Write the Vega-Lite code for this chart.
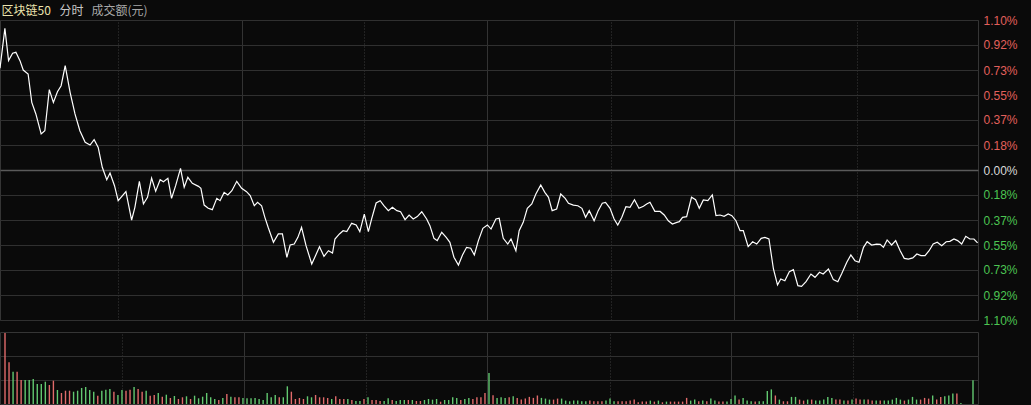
{
  "$schema": "https://vega.github.io/schema/vega-lite/v6.json",
  "background": "#0a0a0a",
  "padding": {"top": 3, "left": -3, "right": 17, "bottom": 0},
  "autosize": {"type": "pad"},
  "bounds": "flush",
  "spacing": 12,
  "config": {
    "view": {"stroke": "#353535", "strokeWidth": 1},
    "axis": {"labelFont": "Liberation Sans", "titleFont": "Noto Sans CJK SC"}
  },
  "datasets": {
    "price": [
      {"t":0,"p":0.746},{"t":1.2,"p":1.039},{"t":2.1,"p":0.802},{"t":3.1,"p":0.856},{"t":3.9,"p":0.863},{"t":4.9,"p":0.802},{"t":5.7,"p":0.733},{"t":6.9,"p":0.704},{"t":7.8,"p":0.496},{"t":8.8,"p":0.411},
      {"t":10.1,"p":0.264},{"t":11,"p":0.288},{"t":12.1,"p":0.589},{"t":13.1,"p":0.496},{"t":14.1,"p":0.574},{"t":15,"p":0.618},{"t":16,"p":0.765},{"t":17.2,"p":0.57},{"t":18.4,"p":0.411},{"t":19.6,"p":0.288},
      {"t":20.9,"p":0.203},{"t":22.1,"p":0.183},{"t":23.1,"p":0.222},{"t":24.1,"p":0.166},{"t":25.1,"p":0.02},{"t":26.2,"p":-0.071},{"t":27,"p":-0.022},{"t":28.1,"p":-0.115},{"t":29,"p":-0.225},{"t":30.9,"p":-0.159},
      {"t":32.3,"p":-0.367},{"t":33.1,"p":-0.274},{"t":34.2,"p":-0.083},{"t":35.2,"p":-0.249},{"t":36.2,"p":-0.2},{"t":37.2,"p":-0.059},{"t":38.2,"p":-0.156},{"t":39.3,"p":-0.071},{"t":40.1,"p":-0.086},{"t":41.2,"p":-0.061},
      {"t":42.1,"p":-0.208},{"t":43.1,"p":-0.115},{"t":44.3,"p":0.012},{"t":45.2,"p":-0.127},{"t":46.1,"p":-0.054},{"t":47.2,"p":-0.098},{"t":48.7,"p":-0.12},{"t":49.3,"p":-0.134},{"t":50.1,"p":-0.257},{"t":51.1,"p":-0.281},
      {"t":52.1,"p":-0.291},{"t":53.2,"p":-0.208},{"t":54,"p":-0.225},{"t":55,"p":-0.164},{"t":55.9,"p":-0.183},{"t":56.9,"p":-0.152},{"t":58.1,"p":-0.083},{"t":59.3,"p":-0.134},{"t":60.5,"p":-0.159},{"t":61.4,"p":-0.188},
      {"t":62.4,"p":-0.262},{"t":63.2,"p":-0.237},{"t":64.2,"p":-0.262},{"t":65,"p":-0.347},{"t":65.8,"p":-0.42},{"t":67.1,"p":-0.53},{"t":68.3,"p":-0.469},{"t":69.3,"p":-0.469},{"t":70.4,"p":-0.64},{"t":71.2,"p":-0.55},
      {"t":72.2,"p":-0.543},{"t":73.1,"p":-0.494},{"t":74,"p":-0.42},{"t":75.1,"p":-0.555},{"t":76.5,"p":-0.689},{"t":77.5,"p":-0.623},{"t":78.4,"p":-0.562},{"t":79.5,"p":-0.633},{"t":80.6,"p":-0.592},{"t":81.6,"p":-0.609},
      {"t":82.2,"p":-0.506},{"t":83.3,"p":-0.469},{"t":84.2,"p":-0.445},{"t":85.1,"p":-0.452},{"t":86.3,"p":-0.391},{"t":87.4,"p":-0.403},{"t":88.3,"p":-0.452},{"t":89.4,"p":-0.323},{"t":90.4,"p":-0.452},{"t":91.2,"p":-0.359},
      {"t":92.3,"p":-0.242},{"t":93.3,"p":-0.225},{"t":94.2,"p":-0.262},{"t":95.3,"p":-0.298},{"t":96.3,"p":-0.274},{"t":97.4,"p":-0.298},{"t":98.3,"p":-0.306},{"t":99.4,"p":-0.364},{"t":100.4,"p":-0.33},{"t":101.4,"p":-0.359},
      {"t":102.4,"p":-0.342},{"t":103.5,"p":-0.306},{"t":104.7,"p":-0.359},{"t":105.5,"p":-0.408},{"t":106.5,"p":-0.501},{"t":107.3,"p":-0.518},{"t":108.4,"p":-0.457},{"t":109.5,"p":-0.494},{"t":110.4,"p":-0.53},{"t":111.4,"p":-0.64},
      {"t":112.5,"p":-0.697},{"t":113.5,"p":-0.623},{"t":114.5,"p":-0.567},{"t":115.5,"p":-0.574},{"t":116.4,"p":-0.623},{"t":117.4,"p":-0.518},{"t":118.5,"p":-0.428},{"t":119.6,"p":-0.403},{"t":120.5,"p":-0.433},{"t":121.7,"p":-0.359},
      {"t":122.5,"p":-0.354},{"t":123.5,"p":-0.501},{"t":124.6,"p":-0.543},{"t":125.4,"p":-0.506},{"t":126.6,"p":-0.592},{"t":127.4,"p":-0.445},{"t":128.4,"p":-0.384},{"t":129.4,"p":-0.281},{"t":130.5,"p":-0.249},{"t":131.5,"p":-0.176},
      {"t":132.7,"p":-0.11},{"t":133.7,"p":-0.164},{"t":134.6,"p":-0.2},{"t":135.5,"p":-0.298},{"t":136.6,"p":-0.286},{"t":137.6,"p":-0.176},{"t":138.7,"p":-0.208},{"t":139.5,"p":-0.244},{"t":140.7,"p":-0.257},{"t":141.8,"p":-0.262},
      {"t":142.8,"p":-0.281},{"t":143.7,"p":-0.347},{"t":144.6,"p":-0.298},{"t":145.8,"p":-0.372},{"t":146.8,"p":-0.298},{"t":147.8,"p":-0.244},{"t":148.6,"p":-0.237},{"t":149.7,"p":-0.281},{"t":150.7,"p":-0.359},{"t":151.6,"p":-0.403},
      {"t":152.6,"p":-0.347},{"t":153.6,"p":-0.269},{"t":154.6,"p":-0.274},{"t":155.7,"p":-0.218},{"t":156.8,"p":-0.281},{"t":157.9,"p":-0.266},{"t":158.7,"p":-0.249},{"t":159.5,"p":-0.237},{"t":160.7,"p":-0.303},{"t":162,"p":-0.304},
      {"t":163,"p":-0.33},{"t":164,"p":-0.372},{"t":165,"p":-0.396},{"t":166.1,"p":-0.384},{"t":166.7,"p":-0.379},{"t":167.5,"p":-0.347},{"t":168.5,"p":-0.342},{"t":169.7,"p":-0.2},{"t":170.7,"p":-0.218},{"t":171.6,"p":-0.281},
      {"t":172.6,"p":-0.22},{"t":173.7,"p":-0.225},{"t":174.8,"p":-0.183},{"t":175.7,"p":-0.335},{"t":176.7,"p":-0.33},{"t":177.7,"p":-0.34},{"t":178.7,"p":-0.323},{"t":179.6,"p":-0.335},{"t":180.6,"p":-0.372},{"t":181.6,"p":-0.445},
      {"t":182.4,"p":-0.445},{"t":183.6,"p":-0.562},{"t":184.7,"p":-0.526},{"t":185.7,"p":-0.543},{"t":186.8,"p":-0.501},{"t":187.7,"p":-0.494},{"t":188.7,"p":-0.506},{"t":189.8,"p":-0.726},{"t":190.8,"p":-0.843},{"t":191.6,"p":-0.799},
      {"t":192.6,"p":-0.812},{"t":193.7,"p":-0.746},{"t":194.7,"p":-0.731},{"t":195.8,"p":-0.848},{"t":196.7,"p":-0.853},{"t":197.8,"p":-0.819},{"t":199,"p":-0.763},{"t":200,"p":-0.787},{"t":201.1,"p":-0.75},{"t":202,"p":-0.763},
      {"t":203.3,"p":-0.726},{"t":204.5,"p":-0.804},{"t":205.6,"p":-0.819},{"t":206.6,"p":-0.758},{"t":207.8,"p":-0.677},{"t":208.8,"p":-0.623},{"t":209.8,"p":-0.665},{"t":210.8,"p":-0.677},{"t":211.9,"p":-0.567},{"t":212.8,"p":-0.526},
      {"t":213.9,"p":-0.55},{"t":215.1,"p":-0.543},{"t":216,"p":-0.545},{"t":216.8,"p":-0.567},{"t":217.7,"p":-0.513},{"t":218.8,"p":-0.55},{"t":219.8,"p":-0.518},{"t":220.9,"p":-0.592},{"t":221.9,"p":-0.648},{"t":222.9,"p":-0.653},
      {"t":224,"p":-0.645},{"t":225,"p":-0.616},{"t":226,"p":-0.628},{"t":227,"p":-0.628},{"t":228,"p":-0.592},{"t":229,"p":-0.543},{"t":230,"p":-0.53},{"t":231.1,"p":-0.555},{"t":232.2,"p":-0.526},{"t":233.1,"p":-0.523},
      {"t":234.1,"p":-0.506},{"t":235,"p":-0.518},{"t":236,"p":-0.543},{"t":237,"p":-0.486},{"t":238,"p":-0.506},{"t":239,"p":-0.506},{"t":239.9,"p":-0.535}
    ],
    "vol": [
      {"t":0,"v":71,"c":"up"},{"t":1,"v":41.7,"c":"up"},{"t":2,"v":32.3,"c":"dn"},{"t":3,"v":32.3,"c":"up"},{"t":4,"v":24,"c":"up"},{"t":5,"v":24,"c":"dn"},{"t":6,"v":24,"c":"dn"},{"t":7,"v":25,"c":"dn"},{"t":8,"v":20,"c":"dn"},{"t":9,"v":20,"c":"dn"},
      {"t":10,"v":22.3,"c":"dn"},{"t":11,"v":19,"c":"up"},{"t":12,"v":23.3,"c":"up"},{"t":13,"v":14,"c":"dn"},{"t":14,"v":11,"c":"up"},{"t":15,"v":13.3,"c":"up"},{"t":16,"v":13.3,"c":"up"},{"t":17,"v":12.3,"c":"dn"},{"t":18,"v":13.3,"c":"dn"},{"t":19,"v":16,"c":"dn"},
      {"t":20,"v":17,"c":"dn"},{"t":21,"v":14,"c":"dn"},{"t":22,"v":12.3,"c":"dn"},{"t":23,"v":8.3,"c":"up"},{"t":24,"v":13.3,"c":"dn"},{"t":25,"v":14.3,"c":"dn"},{"t":26,"v":15,"c":"dn"},{"t":27,"v":12.3,"c":"up"},{"t":28,"v":9,"c":"dn"},{"t":29,"v":14,"c":"dn"},
      {"t":30,"v":13.3,"c":"up"},{"t":31,"v":14.3,"c":"up"},{"t":32,"v":17,"c":"dn"},{"t":33,"v":15,"c":"up"},{"t":34,"v":12.3,"c":"up"},{"t":35,"v":13.3,"c":"dn"},{"t":36,"v":8.3,"c":"up"},{"t":37,"v":9,"c":"up"},{"t":38,"v":11,"c":"dn"},{"t":39,"v":7.3,"c":"up"},
      {"t":40,"v":9.3,"c":"dn"},{"t":41,"v":6,"c":"up"},{"t":42,"v":8,"c":"dn"},{"t":43,"v":5,"c":"up"},{"t":44,"v":6.7,"c":"up"},{"t":45,"v":7.7,"c":"dn"},{"t":46,"v":5,"c":"up"},{"t":47,"v":8.3,"c":"dn"},{"t":48,"v":5.7,"c":"dn"},{"t":49,"v":7.3,"c":"dn"},
      {"t":50,"v":11,"c":"dn"},{"t":51,"v":6.7,"c":"dn"},{"t":52,"v":5,"c":"dn"},{"t":53,"v":4,"c":"up"},{"t":54,"v":6,"c":"dn"},{"t":55,"v":10,"c":"up"},{"t":56,"v":7.3,"c":"dn"},{"t":57,"v":6.7,"c":"up"},{"t":58,"v":6.7,"c":"up"},{"t":59,"v":6,"c":"dn"},
      {"t":60,"v":5.7,"c":"dn"},{"t":61,"v":5.7,"c":"dn"},{"t":62,"v":6,"c":"dn"},{"t":63,"v":5,"c":"dn"},{"t":64,"v":4,"c":"dn"},{"t":65,"v":11,"c":"dn"},{"t":66,"v":6.7,"c":"dn"},{"t":67,"v":9,"c":"dn"},{"t":68,"v":6.7,"c":"up"},{"t":69,"v":6.7,"c":"dn"},
      {"t":70,"v":17.7,"c":"dn"},{"t":71,"v":12.3,"c":"up"},{"t":72,"v":5,"c":"up"},{"t":73,"v":6,"c":"up"},{"t":74,"v":5,"c":"up"},{"t":75,"v":7.7,"c":"dn"},{"t":76,"v":6.7,"c":"dn"},{"t":77,"v":9,"c":"up"},{"t":78,"v":6.7,"c":"up"},{"t":79,"v":6.7,"c":"up"},
      {"t":80,"v":6,"c":"up"},{"t":81,"v":5,"c":"dn"},{"t":82,"v":7.7,"c":"up"},{"t":83,"v":5,"c":"up"},{"t":84,"v":5,"c":"up"},{"t":85,"v":5,"c":"dn"},{"t":86,"v":4,"c":"up"},{"t":87,"v":3,"c":"dn"},{"t":88,"v":3,"c":"dn"},{"t":89,"v":5,"c":"up"},
      {"t":90,"v":6.7,"c":"dn"},{"t":91,"v":4,"c":"up"},{"t":92,"v":4,"c":"up"},{"t":93,"v":3,"c":"up"},{"t":94,"v":3,"c":"dn"},{"t":95,"v":5.7,"c":"dn"},{"t":96,"v":4,"c":"up"},{"t":97,"v":3,"c":"dn"},{"t":98,"v":4,"c":"dn"},{"t":99,"v":4,"c":"dn"},
      {"t":100,"v":4,"c":"up"},{"t":101,"v":4,"c":"dn"},{"t":102,"v":3,"c":"up"},{"t":103,"v":3,"c":"up"},{"t":104,"v":4,"c":"dn"},{"t":105,"v":5,"c":"dn"},{"t":106,"v":4.3,"c":"dn"},{"t":107,"v":5,"c":"dn"},{"t":108,"v":2.3,"c":"up"},{"t":109,"v":4,"c":"dn"},
      {"t":110,"v":4,"c":"dn"},{"t":111,"v":6.7,"c":"dn"},{"t":112,"v":6,"c":"dn"},{"t":113,"v":4,"c":"up"},{"t":114,"v":5,"c":"dn"},{"t":115,"v":6,"c":"dn"},{"t":116,"v":5,"c":"up"},{"t":117,"v":6.7,"c":"up"},{"t":118,"v":6.7,"c":"up"},{"t":119,"v":11,"c":"up"},
      {"t":120,"v":31,"c":"dn"},{"t":121,"v":8.7,"c":"up"},{"t":122,"v":6,"c":"dn"},{"t":123,"v":6.7,"c":"dn"},{"t":124,"v":6,"c":"dn"},{"t":125,"v":6.7,"c":"up"},{"t":126,"v":7.7,"c":"dn"},{"t":127,"v":6.1,"c":"up"},{"t":128,"v":4.4,"c":"up"},{"t":129,"v":5.4,"c":"up"},
      {"t":130,"v":7.1,"c":"up"},{"t":131,"v":6.1,"c":"up"},{"t":132,"v":8.5,"c":"up"},{"t":133,"v":6.1,"c":"dn"},{"t":134,"v":5.4,"c":"dn"},{"t":135,"v":4.4,"c":"dn"},{"t":136,"v":4.4,"c":"up"},{"t":137,"v":5.4,"c":"up"},{"t":138,"v":5.4,"c":"dn"},{"t":139,"v":3.4,"c":"dn"},
      {"t":140,"v":2.7,"c":"dn"},{"t":141,"v":3.4,"c":"dn"},{"t":142,"v":3.4,"c":"dn"},{"t":143,"v":2.7,"c":"dn"},{"t":144,"v":2.7,"c":"dn"},{"t":145,"v":3.4,"c":"up"},{"t":146,"v":2.7,"c":"up"},{"t":147,"v":2.7,"c":"up"},{"t":148,"v":2.7,"c":"up"},{"t":149,"v":3.4,"c":"dn"},
      {"t":150,"v":5.4,"c":"dn"},{"t":151,"v":2.7,"c":"dn"},{"t":152,"v":2.7,"c":"up"},{"t":153,"v":2.7,"c":"up"},{"t":154,"v":2.7,"c":"up"},{"t":155,"v":3.4,"c":"up"},{"t":156,"v":4.4,"c":"up"},{"t":157,"v":1.7,"c":"up"},{"t":158,"v":2.4,"c":"up"},{"t":159,"v":2.4,"c":"up"},
      {"t":160,"v":3.4,"c":"dn"},{"t":161,"v":2.4,"c":"up"},{"t":162,"v":3.4,"c":"dn"},{"t":163,"v":1.7,"c":"up"},{"t":164,"v":2.4,"c":"dn"},{"t":165,"v":2.4,"c":"up"},{"t":166,"v":2.4,"c":"up"},{"t":167,"v":2.4,"c":"up"},{"t":168,"v":2.4,"c":"up"},{"t":169,"v":6.1,"c":"up"},
      {"t":170,"v":3.4,"c":"dn"},{"t":171,"v":4.4,"c":"dn"},{"t":172,"v":2.7,"c":"up"},{"t":173,"v":3.4,"c":"dn"},{"t":174,"v":2.7,"c":"up"},{"t":175,"v":5.4,"c":"dn"},{"t":176,"v":3.4,"c":"dn"},{"t":177,"v":2.4,"c":"up"},{"t":178,"v":2.4,"c":"up"},{"t":179,"v":2.4,"c":"dn"},
      {"t":180,"v":5.1,"c":"dn"},{"t":181,"v":8.5,"c":"dn"},{"t":182,"v":4.4,"c":"up"},{"t":183,"v":6.1,"c":"dn"},{"t":184,"v":3.4,"c":"dn"},{"t":185,"v":2.7,"c":"dn"},{"t":186,"v":2.4,"c":"up"},{"t":187,"v":2.7,"c":"dn"},{"t":188,"v":2.7,"c":"dn"},{"t":189,"v":12.9,"c":"dn"},
      {"t":190,"v":14.6,"c":"dn"},{"t":191,"v":8.5,"c":"up"},{"t":192,"v":4.4,"c":"dn"},{"t":193,"v":2.7,"c":"up"},{"t":194,"v":2.7,"c":"up"},{"t":195,"v":7.1,"c":"dn"},{"t":196,"v":7.1,"c":"dn"},{"t":197,"v":4.4,"c":"up"},{"t":198,"v":3.4,"c":"up"},{"t":199,"v":4.4,"c":"dn"},
      {"t":200,"v":4.4,"c":"up"},{"t":201,"v":3.4,"c":"dn"},{"t":202,"v":3.4,"c":"dn"},{"t":203,"v":4.4,"c":"dn"},{"t":204,"v":7.1,"c":"dn"},{"t":205,"v":6.1,"c":"dn"},{"t":206,"v":4.4,"c":"up"},{"t":207,"v":4.4,"c":"up"},{"t":208,"v":3.4,"c":"dn"},{"t":209,"v":3.4,"c":"up"},
      {"t":210,"v":4.4,"c":"dn"},{"t":211,"v":5.4,"c":"up"},{"t":212,"v":4.4,"c":"up"},{"t":213,"v":4.4,"c":"dn"},{"t":214,"v":4.4,"c":"up"},{"t":215,"v":3.4,"c":"up"},{"t":216,"v":3.4,"c":"dn"},{"t":217,"v":3.4,"c":"up"},{"t":218,"v":3.4,"c":"dn"},{"t":219,"v":3.4,"c":"dn"},
      {"t":220,"v":4.4,"c":"dn"},{"t":221,"v":6.1,"c":"dn"},{"t":222,"v":4.4,"c":"dn"},{"t":223,"v":3.4,"c":"up"},{"t":224,"v":4.4,"c":"dn"},{"t":225,"v":7.1,"c":"dn"},{"t":226,"v":4.4,"c":"dn"},{"t":227,"v":4.4,"c":"up"},{"t":228,"v":6.1,"c":"up"},{"t":229,"v":5.4,"c":"up"},
      {"t":230,"v":8.5,"c":"dn"},{"t":231,"v":4.4,"c":"up"},{"t":232,"v":7.1,"c":"up"},{"t":233,"v":7.8,"c":"dn"},{"t":234,"v":8.5,"c":"dn"},{"t":235,"v":10.5,"c":"dn"},{"t":236,"v":10.5,"c":"up"},{"t":237,"v":1,"c":"dn"},{"t":240,"v":23.8,"c":"dn"}
    ]
  },
  "vconcat": [
    {
      "width": 978,
      "height": 300,
      "data": {"name": "price"},
      "mark": {"type": "line", "color": "#ffffff", "strokeWidth": 1.2, "interpolate": "linear"},
      "encoding": {
        "x": {
          "field": "t",
          "type": "quantitative",
          "scale": {"domain": [0, 240], "nice": false, "zero": false},
          "axis": {
            "orient": "top",
            "values": [29, 59.3, 89.4, 119.6, 149.9, 180, 210.2],
            "grid": true,
            "gridColor": {"condition": {"test": "abs(datum.value - 59.3) > 1 && abs(datum.value - 119.6) > 1 && abs(datum.value - 180) > 1", "value": "#3a3a3a"}, "value": "#333333"},
            "gridDash": {"condition": {"test": "abs(datum.value - 59.3) > 1 && abs(datum.value - 119.6) > 1 && abs(datum.value - 180) > 1", "value": [1, 2]}, "value": []},
            "labels": false,
            "ticks": false,
            "domain": false,
            "title": "区块链50",
            "titleX": 1,
            "titleY": -10,
            "titleAngle": 0,
            "titleAlign": "left",
            "titleBaseline": "middle",
            "titleColor": "#ece4ae",
            "titleFontSize": 12,
            "titleFontWeight": "normal"
          }
        },
        "y": {
          "field": "p",
          "type": "quantitative",
          "scale": {"domain": [-1.1, 1.1], "nice": false, "zero": false},
          "axis": {
            "orient": "right",
            "values": [-1.1, -0.91667, -0.73333, -0.55, -0.36667, -0.18333, 0, 0.18333, 0.36667, 0.55, 0.73333, 0.91667, 1.1],
            "grid": true,
            "gridColor": {"condition": {"test": "abs(datum.value) < 0.01", "value": "#5a5a5a"}, "value": "#303030"},
            "gridWidth": {"condition": {"test": "abs(datum.value) < 0.01", "value": 1.5}, "value": 1},
            "labelExpr": "format(abs(datum.value), '.2f') + '%'",
            "labelColor": {"condition": [{"test": "datum.value > 0.01", "value": "#e2605c"}, {"test": "datum.value < -0.01", "value": "#4cc452"}], "value": "#d8d8d8"},
            "labelFontSize": 12,
            "labelPadding": 5,
            "labelBaseline": "middle",
            "labelFlush": false,
            "labelOverlap": false,
            "ticks": false,
            "domain": false,
            "title": "分时",
            "titleX": -919,
            "titleY": -10,
            "titleAngle": 0,
            "titleAlign": "left",
            "titleBaseline": "middle",
            "titleColor": "#c8c8c8",
            "titleFontSize": 12,
            "titleFontWeight": "normal"
          }
        }
      }
    },
    {
      "width": 978,
      "height": 72,
      "data": {"name": "vol"},
      "mark": {"type": "bar", "size": 1.4},
      "encoding": {
        "x": {
          "field": "t",
          "type": "quantitative",
          "scale": {"domain": [0, 240], "nice": false, "zero": false},
          "axis": {
            "orient": "top",
            "values": [29, 59.3, 89.4, 119.6, 149.9, 180, 210.2],
            "grid": true,
            "gridColor": {"condition": {"test": "abs(datum.value - 59.3) > 1 && abs(datum.value - 119.6) > 1 && abs(datum.value - 180) > 1", "value": "#3a3a3a"}, "value": "#333333"},
            "gridDash": {"condition": {"test": "abs(datum.value - 59.3) > 1 && abs(datum.value - 119.6) > 1 && abs(datum.value - 180) > 1", "value": [1, 2]}, "value": []},
            "labels": false,
            "ticks": false,
            "domain": false,
            "title": null
          }
        },
        "y": {
          "field": "v",
          "type": "quantitative",
          "scale": {"domain": [0, 72], "nice": false},
          "axis": {
            "orient": "right",
            "values": [24, 48],
            "grid": true,
            "gridColor": "#303030",
            "labels": false,
            "ticks": false,
            "domain": false,
            "title": "成交额(元)",
            "titleX": -887,
            "titleY": -322,
            "titleAngle": 0,
            "titleAlign": "left",
            "titleBaseline": "middle",
            "titleColor": "#a8a8a8",
            "titleFontSize": 12,
            "titleFontWeight": "normal"
          }
        },
        "color": {
          "field": "c",
          "type": "nominal",
          "scale": {"domain": ["up", "dn"], "range": ["#e06a6a", "#62c870"]},
          "legend": null
        }
      }
    }
  ]
}
